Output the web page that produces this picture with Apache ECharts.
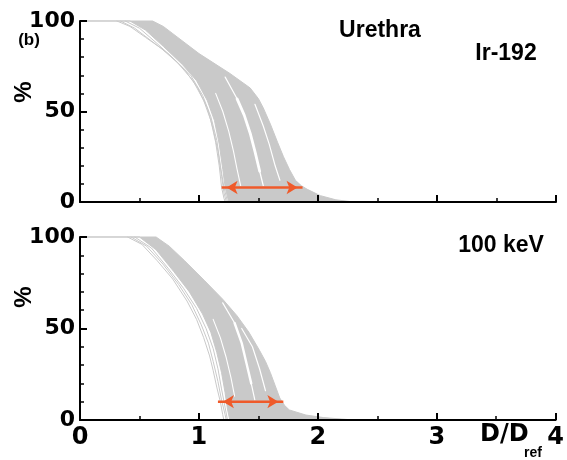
<!DOCTYPE html>
<html><head><meta charset="utf-8">
<script src="https://cdn.jsdelivr.net/npm/echarts@6.0.0/dist/echarts.min.js"></script>
<style>html,body{margin:0;padding:0;background:#fff}#c{width:567px;height:460px}</style>
</head><body><div id="c"></div>
<script>
// ---- data: [D/Dref, %] ----
const xTickValues = [0, 1, 2, 3, 4];
const yTickValues = [0, 50, 100];

// Ir-192 panel
const irBandLeft  = [[0,100],[0.42,100],[0.55,95],[0.70,86],[0.86,76],[0.98,67],[1.07,56],[1.13,45],[1.17,32],[1.20,18],[1.22,8],[1.25,0]];
const irBandRight = [[0.61,100],[0.70,97],[0.78,93],[1.00,82],[1.26,71],[1.43,63],[1.50,57],[1.54,52],[1.60,43],[1.66,33],[1.71,25],[1.76,18],[1.81,12],[1.86,9],[1.91,7],[2.02,3.5],[2.15,1.2],[2.30,0]];
const irFringeA = [[0.31,100],[0.42,97],[0.55,91],[0.68,85],[0.82,77],[0.95,67],[1.04,56],[1.10,45],[1.14,33],[1.17,20],[1.19,8],[1.21,2],[1.22,0]];
const irFringeB = [[0.34,100],[0.46,96],[0.60,89],[0.74,82],[0.88,73],[0.99,63],[1.07,52],[1.12,40],[1.16,28],[1.19,14],[1.21,5],[1.23,0]];
const irFringeC = [[0.38,100],[0.50,96],[0.64,88],[0.79,79],[0.93,70],[1.03,59],[1.10,47],[1.15,34],[1.18,20],[1.21,8],[1.24,0]];
const irGapA = [[1.14,60],[1.20,50],[1.25,39],[1.29,28],[1.32,18],[1.35,9]];
const irGapBTop = [[1.22,69],[1.32,57]];
const irGapB = [[1.32,57],[1.38,48],[1.43,38],[1.47,28],[1.51,17]];
const irGapBEnd = [[1.51,17],[1.54,9]];
const irGapC = [[1.47,54],[1.54,42],[1.59,32],[1.64,20],[1.68,12]];
const irArrow = [[1.19,8],[1.87,8]];

// 100 keV panel
const kevBandLeft  = [[0,100],[0.50,100],[0.64,93],[0.79,81],[0.92,70],[1.03,58],[1.10,48],[1.15,37],[1.19,26],[1.22,15],[1.24,6],[1.26,0]];
const kevBandRight = [[0.64,100],[0.75,95],[0.88,87],[1.05,76],[1.20,66],[1.32,57],[1.42,48],[1.51,38],[1.56,32],[1.60,26],[1.64,19],[1.68,12],[1.72,8],[1.76,5.5],[1.90,2.7],[2.05,1.3],[2.30,0]];
const kevFringeA = [[0.40,100],[0.52,96],[0.65,87],[0.78,77],[0.90,65],[0.98,55],[1.04,45],[1.09,35],[1.12,27],[1.15,18],[1.18,10],[1.20,3],[1.21,0]];
const kevFringeB = [[0.43,100],[0.56,95],[0.70,85],[0.83,74],[0.94,63],[1.02,52],[1.08,42],[1.12,32],[1.16,21],[1.19,11],[1.22,3],[1.23,0]];
const kevFringeC = [[0.46,100],[0.60,94],[0.74,83],[0.87,72],[0.98,61],[1.06,50],[1.12,39],[1.16,28],[1.19,17],[1.22,7],[1.24,0]];
const kevGapA = [[1.12,55],[1.18,45],[1.23,34],[1.27,23],[1.30,13]];
const kevGapBTop = [[1.20,64],[1.30,53]];
const kevGapB = [[1.30,53],[1.36,42],[1.40,31],[1.44,20]];
const kevGapBEnd = [[1.44,20],[1.47,11]];
const kevGapC = [[1.36,50],[1.45,40],[1.51,28],[1.56,16]];
const kevArrow = [[1.16,10],[1.71,10]];

// ---- styling / construction ----
const GRAY = '#c9c9c9';
const ORANGE = '#ef5a2a';
const chart = echarts.init(document.getElementById('c'), null, {renderer: 'canvas'});

function band(idx, left, right) {
  const pts = left.concat(right.slice().reverse());
  return {
    type: 'custom', xAxisIndex: idx, yAxisIndex: idx, silent: true, z: 1,
    data: [[0, 0]],
    renderItem: function (params, api) {
      return {type: 'polygon', shape: {points: pts.map(p => api.coord(p))},
        style: {fill: GRAY, stroke: GRAY, lineWidth: 1}};
    }
  };
}
function line(idx, data, color, width, z) {
  return {type: 'line', xAxisIndex: idx, yAxisIndex: idx, data: data, showSymbol: false,
    silent: true, z: z, lineStyle: {color: color, width: width, cap: 'round'}, animation: false};
}
function arrow(idx, data) {
  return {type: 'line', xAxisIndex: idx, yAxisIndex: idx, silent: true, z: 5,
    data: [
      {value: data[0], symbol: 'arrow', symbolRotate: 90, symbolOffset: [5, 0]},
      {value: data[1], symbol: 'arrow', symbolRotate: -90, symbolOffset: [-5, 0]}
    ],
    showSymbol: true, symbolSize: [10, 11], symbolKeepAspect: false,
    itemStyle: {color: ORANGE}, lineStyle: {color: ORANGE, width: 2.5}, animation: false};
}
function xAx(idx, showLabel) {
  return {type: 'value', gridIndex: idx, min: 0, max: 4, interval: 1, z: 10,
    axisLine: {show: true, lineStyle: {color: '#000', width: 2}},
    axisTick: {show: true, inside: true, length: 7, lineStyle: {color: '#000', width: 2}},
    minorTick: {show: true, splitNumber: 2, length: 4, lineStyle: {color: '#000', width: 1.5}},
    splitLine: {show: false}, minorSplitLine: {show: false},
    axisLabel: {show: showLabel, color: '#000', fontFamily: 'DejaVu Sans', fontWeight: 'bold', fontSize: 24, margin: 6,
      formatter: v => xTickValues.includes(v) ? String(v) : ''}};
}
function yAx(idx) {
  return {type: 'value', gridIndex: idx, min: 0, max: 100, interval: 50, z: 10,
    axisLine: {show: true, lineStyle: {color: '#000', width: 2}},
    axisTick: {show: true, inside: true, length: 7, lineStyle: {color: '#000', width: 2}},
    minorTick: {show: true, splitNumber: 5, length: 4, lineStyle: {color: '#000', width: 1.5}},
    splitLine: {show: false}, minorSplitLine: {show: false},
    axisLabel: {color: '#000', fontFamily: 'DejaVu Sans', fontWeight: 'bold', fontSize: 22, margin: 5,
      formatter: v => yTickValues.includes(v) ? String(v) : ''}};
}
const txt = (text, x, y, size, extra) => Object.assign({type: 'text', x: x, y: y, z: 20,
  style: {text: text, fill: '#000', fontFamily: '"Liberation Sans", Arial, sans-serif', fontWeight: 'bold',
    fontSize: size, align: 'center', verticalAlign: 'middle'}}, extra || {});

chart.setOption({
  animation: false,
  backgroundColor: '#fff',
  grid: [
    {left: 80, top: 21, width: 476, height: 181},
    {left: 80, top: 237, width: 476, height: 183}
  ],
  xAxis: [xAx(0, false), xAx(1, true)],
  yAxis: [yAx(0), yAx(1)],
  series: [
    band(0, irBandLeft, irBandRight),
    line(0, irFringeA, GRAY, 1, 2), line(0, irFringeB, GRAY, 1, 2), line(0, irFringeC, GRAY, 1, 2),
    line(0, irGapA, '#ffffff', 1.1, 3), line(0, irGapBTop, '#ffffff', 1.2, 3),
    line(0, irGapB, '#ffffff', 2.8, 3), line(0, irGapBEnd, '#ffffff', 1.3, 3), line(0, irGapC, '#ffffff', 1.2, 3),
    arrow(0, irArrow),
    band(1, kevBandLeft, kevBandRight),
    line(1, kevFringeA, GRAY, 1, 2), line(1, kevFringeB, GRAY, 1, 2), line(1, kevFringeC, GRAY, 1, 2),
    line(1, kevGapA, '#ffffff', 1.1, 3), line(1, kevGapBTop, '#ffffff', 1.2, 3),
    line(1, kevGapB, '#ffffff', 2.4, 3), line(1, kevGapBEnd, '#ffffff', 1.2, 3), line(1, kevGapC, '#ffffff', 1.2, 3),
    arrow(1, kevArrow)
  ],
  graphic: [
    txt('Urethra', 380, 31, 23),
    txt('Ir-192', 506, 54, 23),
    txt('100 keV', 501, 246, 23),
    txt('(b)', 29, 40, 17),
    txt('%', 24, 92, 24, {rotation: Math.PI / 2}),
    txt('%', 24, 297, 24, {rotation: Math.PI / 2}),
    {type: 'text', x: 480, y: 435, z: 20, style: {text: 'D/D', fill: '#000', fontFamily: 'DejaVu Sans', fontWeight: 'bold', fontSize: 24, align: 'left', verticalAlign: 'middle'}},
    {type: 'text', x: 524, y: 453, z: 20, style: {text: 'ref', fill: '#000', fontFamily: '"Liberation Sans", Arial', fontWeight: 'bold', fontSize: 14, align: 'left', verticalAlign: 'middle'}}
  ]
});
</script>
</body></html>
